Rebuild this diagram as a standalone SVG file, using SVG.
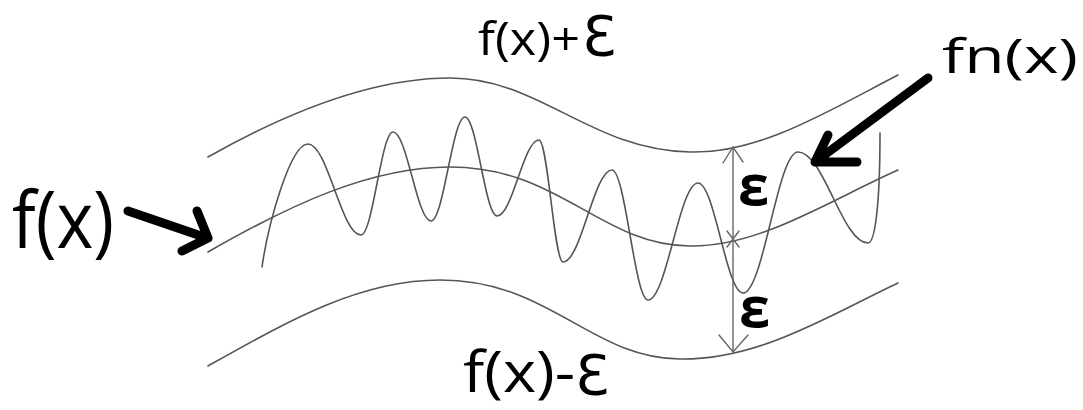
<svg xmlns="http://www.w3.org/2000/svg" width="1083" height="410" viewBox="0 0 1083 410">
<style>
.curve{fill:none;stroke:#555;stroke-width:1.6;stroke-linecap:round;stroke-linejoin:round}
.dim{fill:none;stroke:#666;stroke-width:1.4;stroke-linecap:round}
.big{fill:none;stroke:#000;stroke-width:9;stroke-linecap:round;stroke-linejoin:round}
.lbl{font-family:"Open Sans","Noto Sans","DejaVu Sans",sans-serif;fill:#000}
.eps{font-family:"DejaVu Sans","Open Sans",sans-serif;fill:#000}
.small{font-family:"Open Sans","DejaVu Sans",sans-serif;font-weight:700;fill:#000}
</style>
<rect width="1083" height="410" fill="#fff"/>
<g id="curves">
<path id="upper" class="curve" d="M208,157 C300,105 380,78 450,78 C540,78 590,150 690,152 C760,154 830,110 898,75"/>
<path id="center" class="curve" d="M208,252 C290,205 370,167 450,167 C560,167 600,245 690,246 C760,247 830,200 898,170"/>
<path id="lower" class="curve" d="M208,366 C290,320 360,280 440,280 C550,280 590,358 680,359 C760,360 830,315 898,283"/>
<path id="wave" class="curve" d="M262,267 C268,225 290,144 308,144 C327.6,144 341.4,235 361,235 C372.8,235 381.2,132 393,132 C407.1,132 416.9,221 431,221 C443.6,221 452.4,117 465,117 C476.8,117 485.2,216 497,216 C512.5,216 523.5,140 539,140 C547.9,140 554.1,262 563,262 C581.1,262 593.9,170 612,170 C625.3,170 634.7,300 648,300 C666.5,300 679.5,183 698,183 C714.7,183 726.3,293 743,293 C763.4,293 777.6,152 798,152 C823.9,152 842.1,243 868,243 C875,243 880,205 880,133"/>
</g>
<g id="dimension">
<path class="dim" d="M733,147 L733,352"/>
<path class="dim" d="M723,163 L733,147 L743,162"/>
<path class="dim" d="M727,231 L733,239 L739,231 M727,247 L733,239 L739,247"/>
<path class="dim" d="M719,335 L733,352 L748,335"/>
</g>
<g id="connectors">
<path class="big" d="M128,211 L207,238 M197,211 L208,238 L182,251"/>
<path class="big" d="M928,78 L815,162 M828,135 L815,162 L857,162"/>
</g>
<g id="label-fx">
<text class="lbl" x="12" y="248" font-size="78" textLength="102" lengthAdjust="spacingAndGlyphs">f(x)</text>
</g>
<g id="label-fx-plus">
<text class="lbl" x="478" y="55" font-size="46"><tspan textLength="102" lengthAdjust="spacingAndGlyphs">f(x)+</tspan><tspan class="eps" x="582" font-size="56">Ɛ</tspan></text>
</g>
<g id="label-fx-minus">
<text class="lbl" x="463" y="392" font-size="56"><tspan textLength="112" lengthAdjust="spacingAndGlyphs">f(x)-</tspan><tspan class="eps" x="575" y="394" font-size="56">Ɛ</tspan></text>
</g>
<g id="label-fnx">
<text class="lbl" x="942" y="73" font-size="48" textLength="136" lengthAdjust="spacingAndGlyphs">fn(x)</text>
</g>
<g id="label-eps">
<text class="small" x="738" y="205" font-size="56">ε</text>
<text class="small" x="739" y="327" font-size="56">ε</text>
</g>
</svg>
